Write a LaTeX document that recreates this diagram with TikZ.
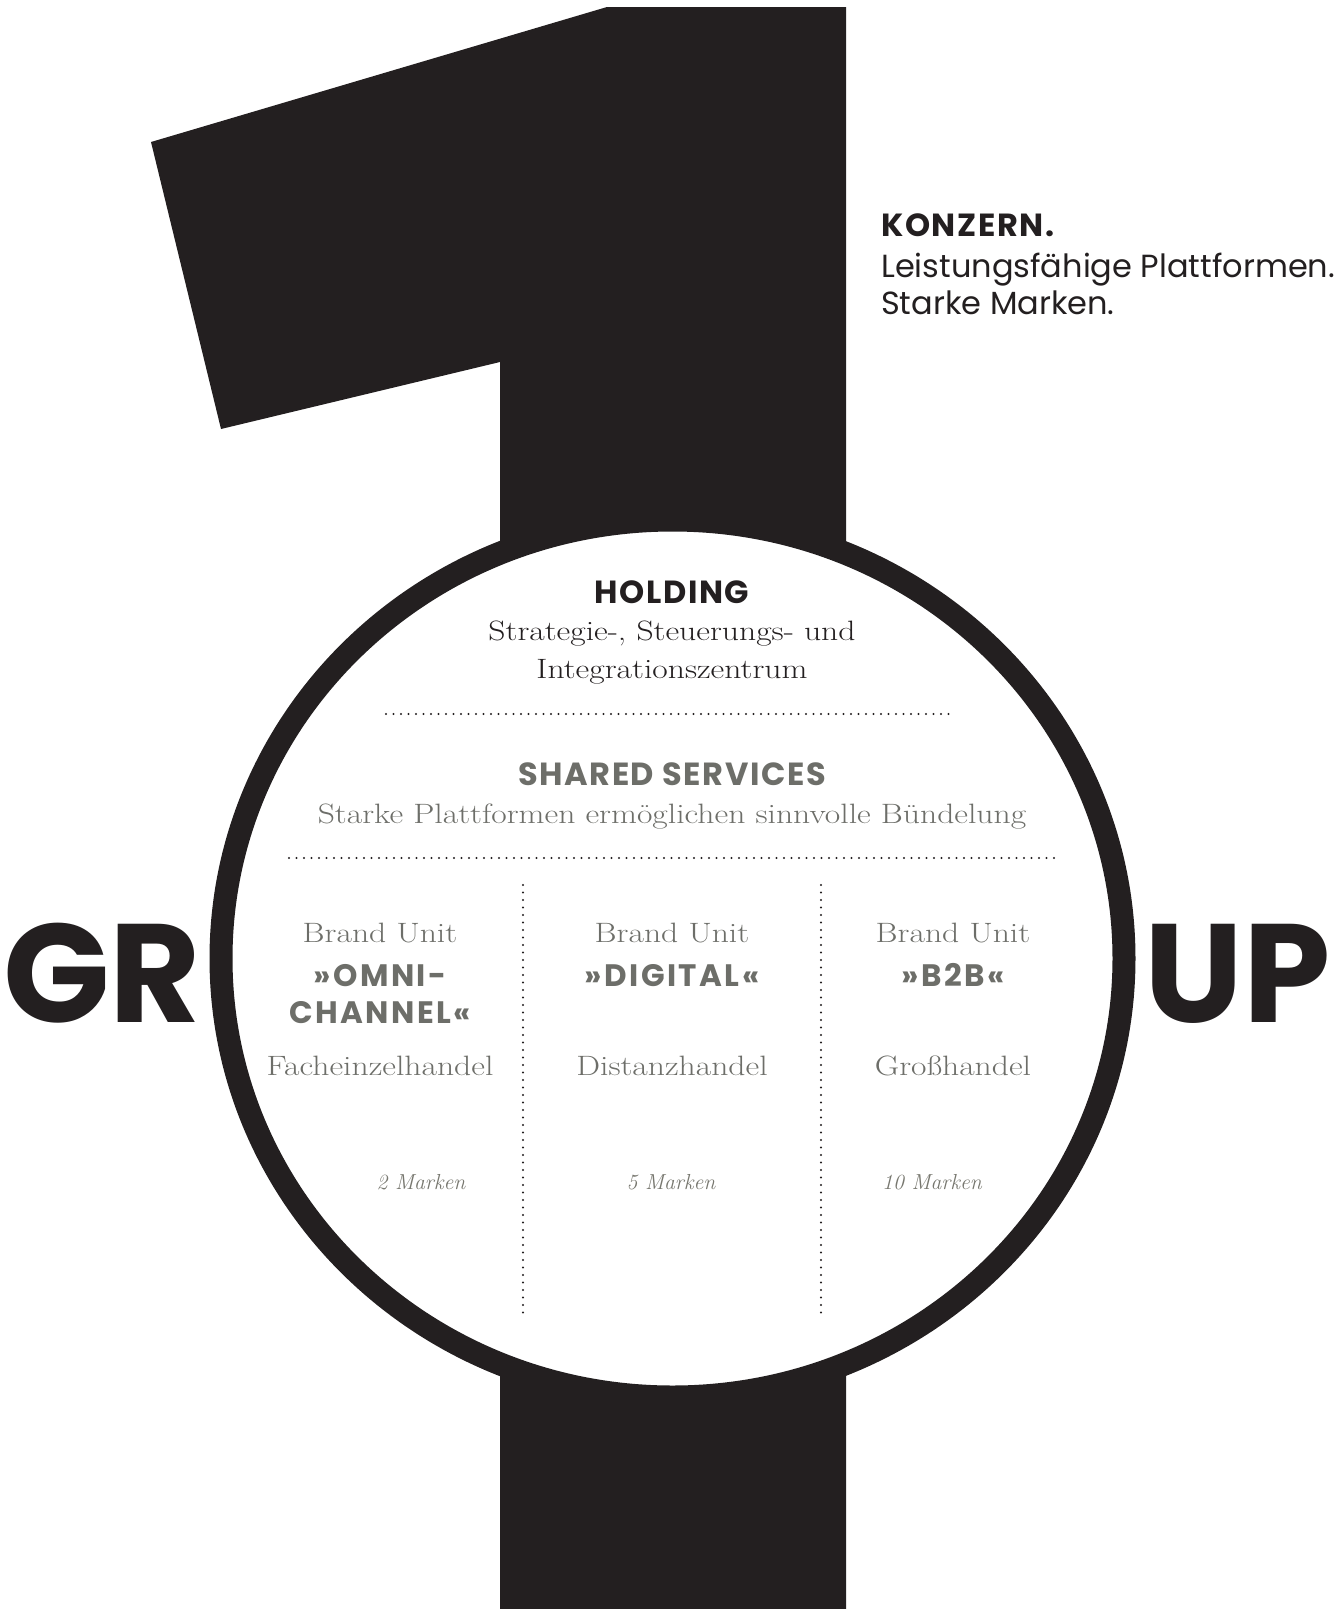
\documentclass[tikz,border=0pt]{standalone}
\usepackage{fontspec}
\setmainfont{Latin Modern Roman}[FakeStretch=1.2]
\newfontfamily\markfont{Latin Modern Roman}
\newfontfamily\gothic{Poppins}
\newfontfamily\gothichead{Poppins}[LetterSpace=5]
\newfontfamily\gothicunit{Poppins}[LetterSpace=8]

\definecolor{inkblack}{HTML}{231F20}
\definecolor{inkgray}{HTML}{6D6E69}
\definecolor{markgray}{HTML}{77776F}

\tikzset{
  bigword/.style={font=\gothic\bfseries\fontsize{140}{140}\selectfont, text=inkblack, inner sep=0pt},
  claim/.style={font=\gothic\fontsize{32}{32}\selectfont, text=inkblack, anchor=base west, inner sep=0pt},
  headline/.style={font=\gothichead\bfseries\fontsize{32}{32}\selectfont, anchor=base, inner sep=0pt},
  subline/.style={font=\fontsize{28}{28}\selectfont, anchor=base, inner sep=0pt},
  unittitle/.style={font=\gothicunit\bfseries\fontsize{31}{31}\selectfont, text=inkgray, anchor=base, inner sep=0pt},
  unitline/.style={font=\fontsize{28}{28}\selectfont, text=inkgray, anchor=base, inner sep=0pt},
  markcount/.style={font=\markfont\itshape\fontsize{21.7}{21.7}\selectfont, text=markgray, anchor=base, inner sep=0pt},
  dotline/.style={inkblack, line width=2.4pt, line cap=round, dash pattern=on 0pt off 7.5pt},
}

\begin{document}
\begin{tikzpicture}[x=1pt,y=-1pt]
\useasboundingbox (0,0) rectangle (1343,1609);

	\coordinate (O) at (672.5,958.5);

	% Draw the big one
	\fill[inkblack] (607,7) -- (846,7) -- (846,1609) -- (500,1609) -- (500,362)
		-- (221,429) -- (151,142) -- cycle;

	% Draw the ring
	\draw[inkblack, line width=23pt, fill=white] (O) ellipse [x radius=451.5pt, y radius=438.5pt];

	\node[bigword, anchor=base west] (gr) at (3,1022) {GR};
	\node[bigword, anchor=base east] (up) at (1331,1022) {UP};

	\node[claim, font=\gothichead\bfseries\fontsize{32}{32}\selectfont] (konzern) at (881,236) {KONZERN.};
	\node[claim] (konzernA) at (881,277) {Leistungsfähige Plattformen.};
	\node[claim] (konzernB) at (881,314) {Starke Marken.};

	% Holding and shared services
	\node[headline, text=inkblack] (holding) at (672,603) {HOLDING};
	\node[subline, text=inkblack] (holdingA) at (672,640) {Strategie-, Steuerungs- und};
	\node[subline, text=inkblack] (holdingB) at (672,678) {Integrationszentrum};

	\coordinate (d1l) at (386,714);
	\coordinate (d1r) at (956,714);
	\draw[dotline] (d1l) -- (d1r);

	\node[headline, text=inkgray] (shared) at (672,785) {SHARED SERVICES};
	\node[subline, text=inkgray] (sharedA) at (672,823) {Starke Plattformen ermöglichen sinnvolle Bündelung};

	\coordinate (d2l) at (289,858);
	\coordinate (d2r) at (1056,858);
	\draw[dotline] (d2l) -- (d2r);

	% Column separators
	\coordinate (v1t) at (523,885);
	\coordinate (v1b) at (523,1318);
	\coordinate (v2t) at (821,885);
	\coordinate (v2b) at (821,1318);
	\draw[dotline] (v1t) -- (v1b);
	\draw[dotline] (v2t) -- (v2b);

	% Brand units
	\node[unitline] (omniA) at (380,942) {Brand Unit};
	\node[unittitle] (omniB) at (380,986) {»OMNI-};
	\node[unittitle] (omniC) at (380,1023) {CHANNEL«};
	\node[unitline] (omniD) at (380,1075) {Facheinzelhandel};
	\node[markcount] (omniE) at (421,1189) {2 Marken};

	\node[unitline] (digiA) at (672,942) {Brand Unit};
	\node[unittitle] (digiB) at (672,986) {»DIGITAL«};
	\node[unitline] (digiD) at (672,1075) {Distanzhandel};
	\node[markcount] (digiE) at (671,1189) {5 Marken};

	\node[unitline] (btobA) at (953,942) {Brand Unit};
	\node[unittitle] (btobB) at (953,986) {»B2B«};
	\node[unitline] (btobD) at (953,1075) {Großhandel};
	\node[markcount] (btobE) at (932,1189) {10 Marken};

\end{tikzpicture}
\end{document}
